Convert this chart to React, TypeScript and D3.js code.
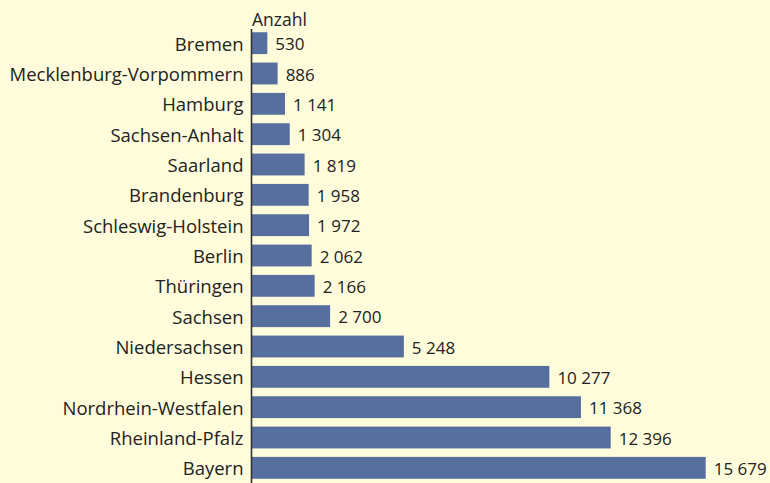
import React, { useEffect, useRef } from "react";
import * as d3 from "d3";

const states = [
  "Bremen",
  "Mecklenburg-Vorpommern",
  "Hamburg",
  "Sachsen-Anhalt",
  "Saarland",
  "Brandenburg",
  "Schleswig-Holstein",
  "Berlin",
  "Thüringen",
  "Sachsen",
  "Niedersachsen",
  "Hessen",
  "Nordrhein-Westfalen",
  "Rheinland-Pfalz",
  "Bayern",
];

const counts = [530, 886, 1141, 1304, 1819, 1958, 1972, 2062, 2166, 2700, 5248, 10277, 11368, 12396, 15679];

const axisTitle = "Anzahl";

const App: React.FC = () => {
  const svgRef = useRef<SVGSVGElement>(null);

  useEffect(() => {
    if (!svgRef.current) return;
    const width = 770;
    const height = 483;
    const x0 = 252;
    const font = "'Open Sans', 'Liberation Sans', sans-serif";

    const svg = d3.select(svgRef.current);
    svg.selectAll("*").remove();

    svg.append("rect").attr("width", width).attr("height", height).attr("fill", "#fffcdb");

    const x = d3.scaleLinear().domain([0, 15679]).range([x0, 705.7]);
    const y = d3.scaleBand().domain(states).range([28, 483]).paddingInner(0.28).paddingOuter(0.14);

    const fmt = d3.format(",d");

    const data = states.map((s, i) => ({ s, v: counts[i] }));

    svg
      .append("g")
      .selectAll("rect")
      .data(data)
      .join("rect")
      .attr("x", x0)
      .attr("y", (d) => y(d.s)!)
      .attr("width", (d) => x(d.v) - x0)
      .attr("height", y.bandwidth())
      .attr("fill", "#566f9f");

    svg
      .append("g")
      .selectAll("text")
      .data(data)
      .join("text")
      .attr("x", (d) => x(d.v) + 8)
      .attr("y", (d) => y(d.s)! + y.bandwidth() / 2)
      .attr("dy", "0.42em")
      .attr("font-family", font)
      .attr("font-size", 17)
      .attr("fill", "#222")
      .text((d) => fmt(d.v).replace(/,/g, " "));

    const axis = svg
      .append("g")
      .attr("transform", `translate(${x0 - 0.5},0)`)
      .call(d3.axisLeft(y).tickSize(0).tickPadding(8));
    axis.select(".domain").attr("d", `M0,29V${height}`).attr("stroke", "#333").attr("stroke-width", 1.6);
    axis
      .selectAll("text")
      .attr("dy", "0.4em")
      .attr("font-family", font)
      .attr("font-size", 18.5)
      .attr("fill", "#222");

    svg
      .append("text")
      .attr("x", x0)
      .attr("y", 25.5)
      .attr("font-family", font)
      .attr("font-size", 17.5)
      .attr("fill", "#222")
      .text(axisTitle);
  }, []);

  return (
    <svg
      ref={svgRef}
      width={770}
      height={483}
      style={{ position: "absolute", left: 0, top: 0, display: "block" }}
    />
  );
};

export default App;
